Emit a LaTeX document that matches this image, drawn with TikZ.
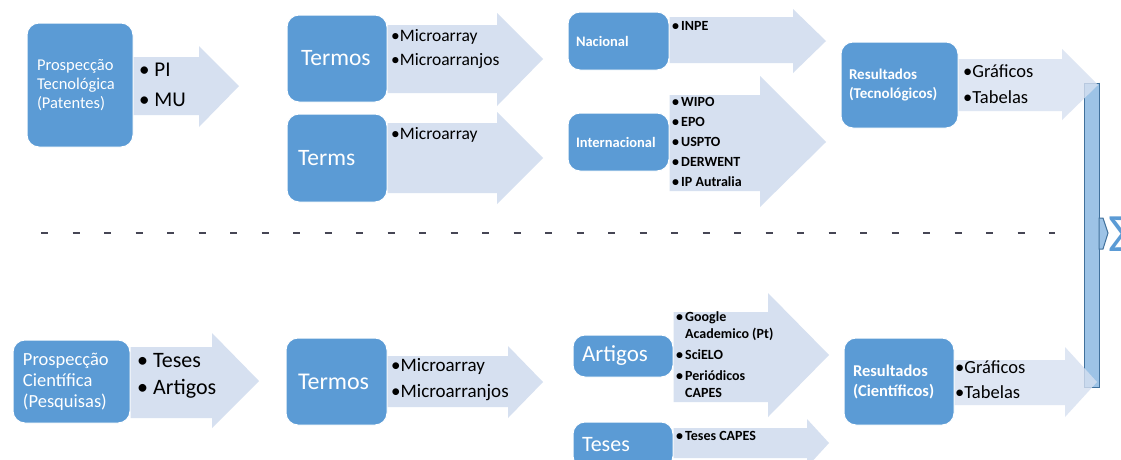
\documentclass[tikz,border=0pt]{standalone}
\usepackage{fontspec}
\setmainfont{Carlito}
\definecolor{azulbloco}{RGB}{91,155,213}
\definecolor{azulseta}{RGB}{214,224,240}
\definecolor{azulbarra}{RGB}{157,195,230}
\definecolor{azulescuro}{RGB}{65,113,156}
\definecolor{tracos}{RGB}{70,70,85}
\newcommand{\marca}{\makebox[9pt][l]{•}}

\begin{document}
\begin{tikzpicture}[x=1pt,y=-1pt,
    bloco/.style={rectangle, rounded corners=12pt, fill=azulbloco, draw=white, line width=1pt, text=white, align=left, inner sep=0pt},
    seta/.style={fill=azulseta},
    lista/.style={anchor=west, align=left, text=black, inner sep=0pt}]
\useasboundingbox (0,0) rectangle (1121,459);
\fill[white] (0,0) rectangle (1121,459);
\clip (0,0) rectangle (1121,459);

% linha tracejada
\draw[tracos, line width=2.5pt, dash pattern=on 7pt off 24.5pt] (41,233) -- (1055,233);

% barra final
\node[rectangle, fill=azulbarra, draw=azulescuro, line width=0.6pt, minimum width=15pt, minimum height=304pt, inner sep=0pt] (barra) at (1091.5,235) {};
\draw[azulescuro, line width=1.5pt] (barra.north east) -- (barra.south east);
\filldraw[fill=azulbarra, draw=azulescuro, line width=1pt] (1099,218) -- (1103,218) -- (1108,233) -- (1103,249) -- (1099,249) -- cycle;
\node[anchor=west, inner sep=0pt, text=azulbloco, font=\fontsize{54}{54}\selectfont] (soma) at (1108,234) {Σ};

% blocos
\node[bloco, minimum width=106pt, minimum height=124pt, text width=86pt, font=\fontsize{16.5}{19}\selectfont] (ptec) at (80,85) {Prospecção\\Tecnológica\\(Patentes)};
\node[bloco, minimum width=100pt, minimum height=87pt, text width=72pt, font=\fontsize{23.5}{26}\selectfont] (termos) at (337,58.5) {Termos};
\node[bloco, minimum width=100pt, minimum height=88pt, text width=78pt, font=\fontsize{23.5}{26}\selectfont] (terms) at (337,158) {Terms};
\node[bloco, minimum width=101pt, minimum height=58pt, text width=85pt, font=\bfseries\fontsize{14.5}{17}\selectfont] (nac) at (618.5,41) {Nacional};
\node[bloco, minimum width=101pt, minimum height=58pt, text width=85pt, font=\bfseries\fontsize{14.5}{17}\selectfont] (inter) at (618.5,142) {Internacional};
\node[bloco, minimum width=117pt, minimum height=86pt, text width=101pt, font=\bfseries\fontsize{15}{19}\selectfont] (restec) at (899.5,85) {Resultados\\(Tecnológicos)};

\node[bloco, minimum width=117pt, minimum height=83pt, text width=97pt, font=\fontsize{18.5}{21}\selectfont] (pcie) at (71.5,381.5) {Prospecção\\Científica\\(Pesquisas)};
\node[bloco, minimum width=101pt, minimum height=87pt, text width=77pt, font=\fontsize{24}{26}\selectfont] (termos2) at (336.5,381.5) {Termos};
\node[bloco, minimum width=100pt, minimum height=42pt, text width=82pt, font=\fontsize{23}{26}\selectfont] (artigos) at (623,356) {Artigos};
\node[bloco, minimum width=100pt, minimum height=46pt, text width=82pt, font=\fontsize{22}{26}\selectfont] (teses) at (623,445) {Teses};
\node[bloco, minimum width=110pt, minimum height=87pt, text width=92pt, font=\bfseries\fontsize{16.5}{20}\selectfont] (rescie) at (899,381.5) {Resultados\\(Científicos)};

% setas
\fill[seta] (ptec.east |- 0,57) -- (199,57) -- (199,46) -- (239,86) -- (199,127) -- (199,115) -- (ptec.east |- 0,115) -- cycle;
\fill[seta] (termos.east |- 0,25) -- (497,25) -- (497,13) -- (543,59) -- (497,106) -- (497,93) -- (termos.east |- 0,93) -- cycle;
\fill[seta] (terms.east |- 0,123) -- (497,123) -- (497,112) -- (543,158) -- (497,204) -- (497,193) -- (terms.east |- 0,193) -- cycle;
\fill[seta] (nac.east |- 0,17) -- (793,17) -- (793,9) -- (826,41) -- (793,73) -- (793,63) -- (nac.east |- 0,63) -- cycle;
\fill[seta] (inter.east |- 0,95) -- (760,95) -- (760,76) -- (826,142) -- (760,207) -- (760,191) -- (inter.east |- 0,191) -- cycle;
\fill[seta, fill opacity=0.8] (restec.east |- 0,59) -- (1062,59) -- (1062,49) -- (1098,85) -- (1062,120) -- (1062,111) -- (restec.east |- 0,111) -- cycle;
\fill[seta] (pcie.east |- 0,347) -- (212,347) -- (212,333) -- (259,381) -- (212,428) -- (212,418) -- (pcie.east |- 0,418) -- cycle;
\fill[seta] (termos2.east |- 0,356) -- (508,356) -- (508,346) -- (543,382) -- (508,418) -- (508,407) -- (termos2.east |- 0,407) -- cycle;
\fill[seta] (artigos.east |- 0,312) -- (768,312) -- (768,293) -- (829,355) -- (768,417) -- (768,402) -- (artigos.east |- 0,402) -- cycle;
\fill[seta] (teses.east |- 0,428) -- (807,428) -- (807,419) -- (829,443) -- (807,467) -- (807,458) -- (teses.east |- 0,458) -- cycle;
\fill[seta, fill opacity=0.8] (rescie.east |- 0,360) -- (1065,360) -- (1065,347) -- (1097,382) -- (1065,417) -- (1065,405) -- (rescie.east |- 0,405) -- cycle;

% listas
\node[lista, font=\fontsize{21}{30}\selectfont] (lptec) at (139,85) {• PI\\• MU};
\node[lista, font=\fontsize{17.5}{24}\selectfont] (ltermos) at (391,49) {•Microarray\\•Microarranjos};
\node[lista, font=\fontsize{17.5}{24}\selectfont] (lterms) at (391,135) {•Microarray};
\node[lista, font=\bfseries\fontsize{14}{20}\selectfont] (lnac) at (672,26) {\marca INPE};
\node[lista, font=\bfseries\fontsize{14}{20}\selectfont] (linter) at (672,142) {\marca WIPO\\\marca EPO\\\marca USPTO\\\marca DERWENT\\\marca IP Autralia};
\node[lista, font=\fontsize{18.5}{26}\selectfont] (lrestec) at (963,84) {•Gráficos\\•Tabelas};

\node[lista, font=\fontsize{22}{27}\selectfont] (lpcie) at (137,375.5) {• Teses\\• Artigos};
\node[lista, font=\fontsize{19}{26}\selectfont] (ltermos2) at (391,380) {•Microarray\\•Microarranjos};
\node[lista, font=\bfseries\fontsize{14}{17}\selectfont] (lartigos) at (676,355) {\marca Google\\\hspace*{9pt}Academico (Pt)\\[4pt]\marca SciELO\\[4pt]\marca Periódicos\\\hspace*{9pt}CAPES};
\node[lista, font=\bfseries\fontsize{14}{17}\selectfont] (lteses) at (676,436) {\marca Teses CAPES};
\node[lista, font=\fontsize{18.5}{25}\selectfont] (lrescie) at (955,379.5) {•Gráficos\\•Tabelas};
\end{tikzpicture}
\end{document}
